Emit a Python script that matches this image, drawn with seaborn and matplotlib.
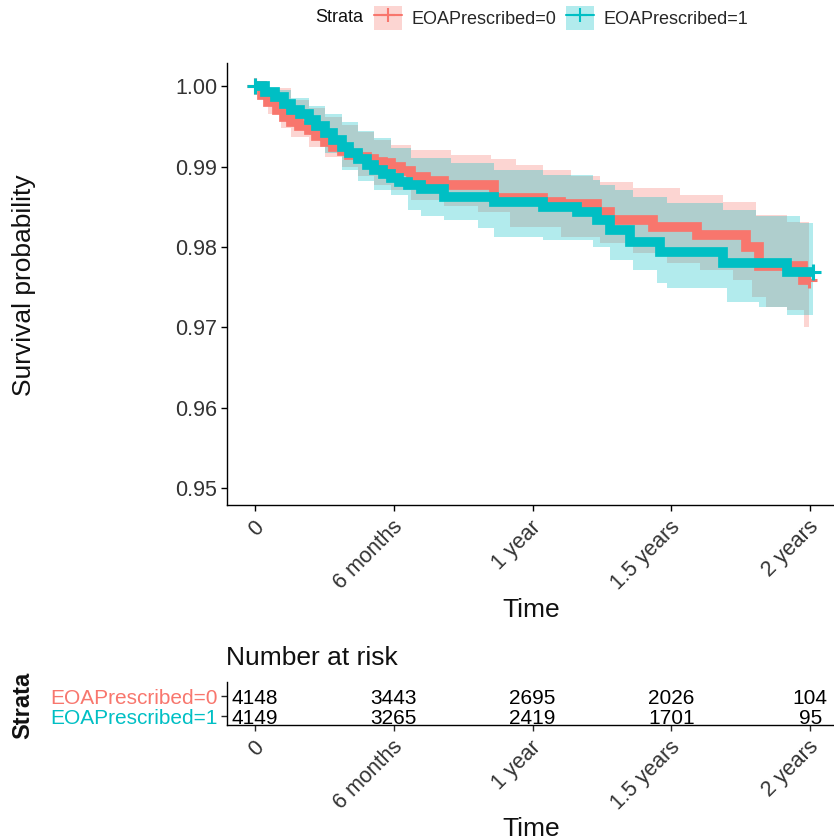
import numpy as np
import seaborn as sns
import matplotlib
matplotlib.use("Agg")
import matplotlib.pyplot as plt
from matplotlib.patches import Patch
from matplotlib.lines import Line2D
from matplotlib.transforms import ScaledTranslation

# ---- data (time in days) ----
groups = ["EOAPrescribed=0", "EOAPrescribed=1"]
colors = ["#F8766D", "#00BFC4"]

t_est0 = [0, 9, 18, 29, 39, 48, 58, 71, 81, 92, 103, 114, 124, 136, 147, 157, 169, 179, 192, 205, 225, 249,
          314, 379, 402, 450, 467, 523, 581, 646, 663, 720, 729]
s_est0 = [1.0, 0.9989, 0.9980, 0.9971, 0.9962, 0.9956, 0.9950, 0.9946, 0.9938, 0.9931, 0.9925, 0.9919, 0.9915,
          0.9912, 0.9909, 0.9906, 0.9904, 0.9900, 0.9894, 0.9887, 0.9882, 0.9877,
          0.9861, 0.9856, 0.9853, 0.9843, 0.9834, 0.9825, 0.9815, 0.9800, 0.9777, 0.9759, 0.9759]

t_est1 = [0, 13, 26, 38, 48, 59, 71, 81, 92, 103, 114, 124, 136, 147, 157, 169, 179, 190, 201, 218, 249,
          314, 379, 424, 450, 467, 493, 532, 615, 699, 733]
s_est1 = [1.0, 0.9993, 0.9987, 0.9978, 0.9971, 0.9965, 0.9958, 0.9950, 0.9942, 0.9933, 0.9925, 0.9917, 0.9909,
          0.9902, 0.9896, 0.9891, 0.9886, 0.9881, 0.9877, 0.9872, 0.9862,
          0.9856, 0.9850, 0.9844, 0.9834, 0.9821, 0.9806, 0.9794, 0.9780, 0.9769, 0.9769]

t_up0 = [0, 18, 48, 71, 92, 114, 136, 157, 179, 205, 258, 310, 343, 379, 415, 454, 497, 559, 615, 659, 699, 729]
s_up0 = [1.0, 0.9998, 0.9983, 0.9973, 0.9962, 0.9952, 0.9943, 0.9933, 0.9927, 0.9921, 0.9915, 0.9909, 0.9902,
         0.9896, 0.9889, 0.9881, 0.9874, 0.9865, 0.9856, 0.9840, 0.9831, 0.9831]
t_lo0 = [0, 18, 35, 48, 71, 92, 114, 136, 157, 179, 205, 249, 293, 336, 402, 454, 497, 542, 585, 628, 654, 672,
         699, 722, 729]
s_lo0 = [1.0, 0.9965, 0.9948, 0.9937, 0.9925, 0.9912, 0.9900, 0.9889, 0.9877, 0.9871, 0.9859, 0.9851, 0.9843,
         0.9825, 0.9813, 0.9805, 0.9793, 0.9780, 0.9772, 0.9759, 0.9738, 0.9726, 0.9722, 0.9701, 0.9701]

t_up1 = [0, 26, 48, 71, 92, 114, 136, 157, 179, 205, 258, 314, 379, 445, 454, 474, 497, 542, 615, 659, 716, 733]
s_up1 = [1.0, 0.9996, 0.9986, 0.9975, 0.9965, 0.9955, 0.9945, 0.9936, 0.9923, 0.9911, 0.9904, 0.9896, 0.9890,
         0.9884, 0.9877, 0.9871, 0.9862, 0.9855, 0.9846, 0.9838, 0.9830, 0.9830]
t_lo1 = [0, 26, 48, 71, 92, 114, 136, 157, 179, 201, 218, 249, 293, 314, 379, 445, 467, 497, 529, 542, 620, 663,
         699, 733]
s_lo1 = [1.0, 0.9983, 0.9961, 0.9940, 0.9917, 0.9896, 0.9882, 0.9871, 0.9865, 0.9846, 0.9838, 0.9834, 0.9824,
         0.9813, 0.9809, 0.9800, 0.9784, 0.9772, 0.9755, 0.9749, 0.9731, 0.9726, 0.9716, 0.9716]

time_breaks = [0, 182.5, 365, 547.5, 730]
time_labels = ["0", "6 months", "1 year", "1.5 years", "2 years"]
y_breaks = [0.95, 0.96, 0.97, 0.98, 0.99, 1.00]

risk0 = [4148, 3443, 2695, 2026, 104]
risk1 = [4149, 3265, 2419, 1701, 95]

# ---- style ----
sns.set_theme(style="ticks")
plt.rcParams["font.family"] = ["Liberation Sans", "DejaVu Sans"]
plt.rcParams["axes.linewidth"] = 1.0
plt.rcParams["axes.edgecolor"] = "black"

W, H = 834, 840
fig = plt.figure(figsize=(W / 100, H / 100), dpi=100)
fig.patch.set_facecolor("white")

ax = fig.add_axes([227 / W, 1 - 505 / H, 611 / W, 442 / H])
rax = fig.add_axes([227 / W, 1 - 725 / H, 611 / W, 43 / H])

series = [
    (t_est0, s_est0, t_up0, s_up0, t_lo0, s_lo0),
    (t_est1, s_est1, t_up1, s_up1, t_lo1, s_lo1),
]

# confidence bands
for (te, se, tu, su, tl, sl), c in zip(series, colors):
    grid = np.union1d(tu, tl)
    up = np.array(su)[np.searchsorted(tu, grid, side="right") - 1]
    lo = np.array(sl)[np.searchsorted(tl, grid, side="right") - 1]
    ax.fill_between(grid, lo, up, step="post", color=c, alpha=0.3, lw=0)

# survival curves
for (te, se, *_), c, g in zip(series, colors, groups):
    sns.lineplot(x=te, y=se, ax=ax, color=c, lw=7, drawstyle="steps-post",
                 estimator=None, sort=False, legend=False,
                 solid_capstyle="butt", solid_joinstyle="miter")
    ax.plot([te[0], te[-1]], [se[0], se[-1]], ls="none", marker="+", ms=11, mew=2.2, color=c)

ax.set_xlim(-36.5, 766.5)
ax.set_ylim(0.9479, 1.0029)
ax.set_yticks(y_breaks)
ax.set_yticklabels([f"{v:.2f}" for v in y_breaks])
ax.set_xticks(time_breaks)
ax.set_xticklabels(time_labels, rotation=45, ha="right", va="top")
sns.despine(ax=ax)
ax.tick_params(axis="both", labelsize=15.5, colors="#333333", length=4, width=1, pad=3)
ax.tick_params(axis="both", color="black")
ax.set_ylabel("Survival probability", fontsize=19, color="#111111", va="center")
ax.yaxis.set_label_coords(-0.332, 0.4977)
ax.set_xlabel("Time", fontsize=19, color="#111111", va="center")
ax.xaxis.set_label_coords(0.4975, -0.2376)

# risk table
rax.set_xlim(-36.5, 766.5)
rax.set_ylim(1.45, -0.7)
for row, vals in enumerate([risk0, risk1]):
    for t, v in zip(time_breaks, vals):
        rax.text(t, row, str(v), ha="center", va="center_baseline", fontsize=15, color="black")
rax.set_yticks([0, 1])
rax.set_yticklabels(groups)
for lab, c in zip(rax.get_yticklabels(), colors):
    lab.set_color(c)
rax.set_xticks(time_breaks)
rax.set_xticklabels(time_labels, rotation=45, ha="right", va="top")
sns.despine(ax=rax)
rax.tick_params(axis="y", labelsize=15, length=4, width=1, pad=3)
rax.tick_params(axis="x", labelsize=15.5, length=4, width=1, pad=3)
for lab in rax.get_xticklabels():
    lab.set_color("#333333")
rax.set_ylabel("Strata", fontsize=17, fontweight="bold", color="#111111", va="center")
rax.yaxis.set_label_coords(-0.335, 0.465)
rax.set_xlabel("Time", fontsize=19, color="#111111", va="center")
rax.xaxis.set_label_coords(0.4975, -2.42)
fig.text(226 / W, 1 - 658 / H, "Number at risk", fontsize=19, ha="left", va="center", color="#111111")

# shift rotated x labels right a bit
shift = ScaledTranslation(0.13, -0.02, fig.dpi_scale_trans)
for a in (ax, rax):
    for lab in a.get_xticklabels():
        lab.set_transform(lab.get_transform() + shift)

# legend
handles = [(Patch(facecolor=c, alpha=0.3, lw=0),
            Line2D([], [], color=c, lw=1.5, marker="+", ms=10, mew=1.5)) for c in colors]
fig.text(315 / W, 1 - 18 / H, "Strata", fontsize=13, ha="left", va="center", color="#111111")
fig.legend(handles, groups, loc="center left", bbox_to_anchor=(374 / W, 1 - 18 / H), ncol=2,
           frameon=False, fontsize=13, handlelength=1.55, handleheight=1.65, handletextpad=0.55,
           columnspacing=0.5, borderpad=0, borderaxespad=0)

fig.savefig("out.png", dpi=100, facecolor="white")
